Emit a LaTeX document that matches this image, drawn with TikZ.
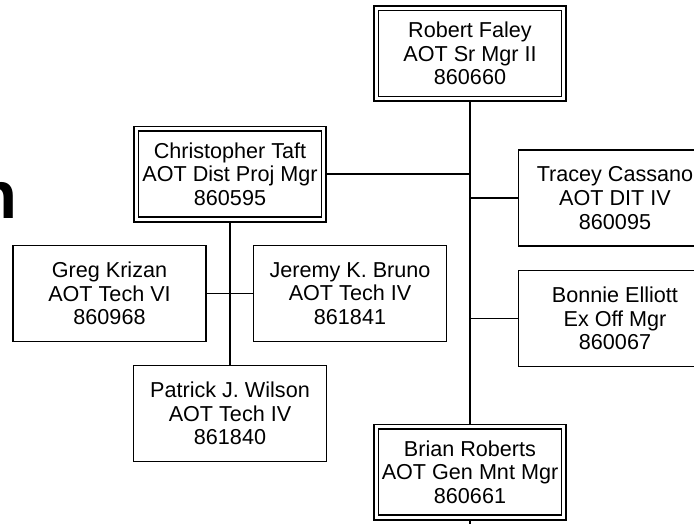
\documentclass[tikz,border=0pt]{standalone}
\usepackage{fontspec}
\setmainfont{Liberation Sans}
\begin{document}
\begin{tikzpicture}[x=1pt,y=-1pt,
  line width=1.8pt,
  person/.style={draw, line width=1.8pt, align=center, inner sep=0pt,
    minimum width=193pt, minimum height=96pt,
    font=\fontsize{21.6}{23.6}\selectfont},
  boss/.style={person, double, double distance=3pt, line width=1.6pt,
    minimum width=187.8pt, minimum height=90.8pt, outer sep=3.1pt},
  link/.style={draw, line width=1.8pt}]
\useasboundingbox (0,0) rectangle (694,523);
\clip (0,0) rectangle (694,523);
\node[anchor=base east, inner sep=0pt, font=\fontsize{67}{70}\selectfont\bfseries] (title) at (18.4,218) {n};
\node[boss] (robert) at (470,53.5) {Robert Faley\\AOT Sr Mgr II\\860660};
\node[boss] (christopher) at (230,174) {Christopher Taft\\AOT Dist Proj Mgr\\860595};
\node[boss] (brian) at (470,472) {Brian Roberts\\AOT Gen Mnt Mgr\\860661};
\node[person] (greg) at (109.5,293.5) {Greg Krizan\\AOT Tech VI\\860968};
\node[person] (jeremy) at (350,293.5) {Jeremy K. Bruno\\AOT Tech IV\\861841};
\node[person] (patrick) at (230,413.5) {Patrick J. Wilson\\AOT Tech IV\\861840};
\node[person] (tracey) at (615,198) {Tracey Cassano\\AOT DIT IV\\860095};
\node[person] (bonnie) at (615,318.5) {Bonnie Elliott\\Ex Off Mgr\\860067};
\coordinate (below) at (470,535);
\draw[link] (robert.south) -- (brian.north);
\draw[link] (brian.south) -- (below);
\draw[link] (christopher.east) -- (christopher.east -| robert.south);
\draw[link] (tracey.west) -- (tracey.west -| robert.south);
\draw[link] (bonnie.west) -- (bonnie.west -| robert.south);
\draw[link] (christopher.south) -- (patrick.north);
\draw[link] (greg.east) -- (jeremy.west);
\end{tikzpicture}
\end{document}
